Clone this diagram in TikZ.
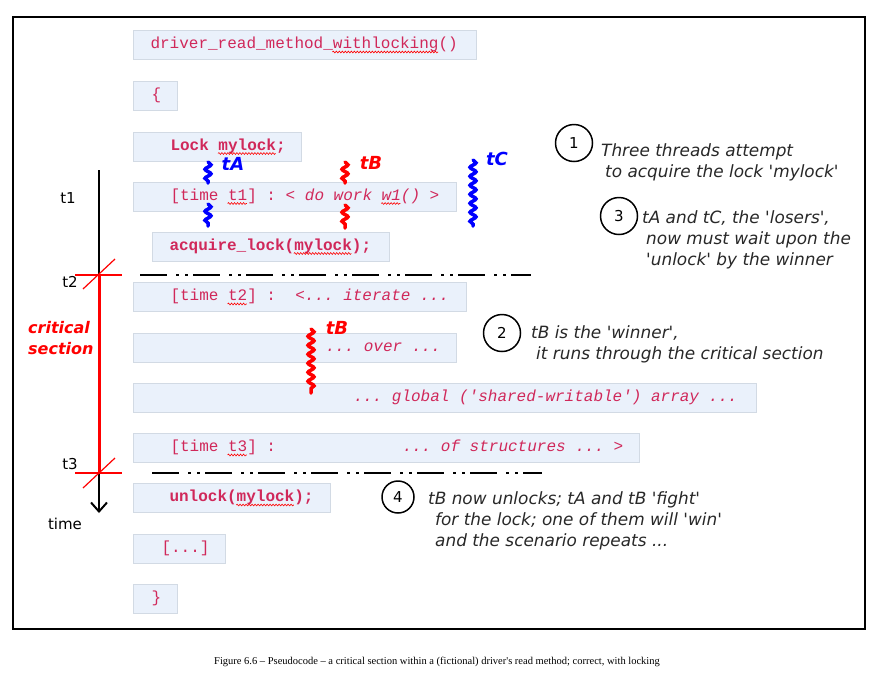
\documentclass[tikz,border=0pt]{standalone}
\usepackage{fontspec}
\setmonofont{Liberation Mono}
\newfontfamily\annfont{DejaVu Sans}
\newfontfamily\capfont{Liberation Serif}
\usetikzlibrary{decorations.pathmorphing,arrows.meta}
\definecolor{codered}{RGB}{208,40,90}
\definecolor{boxfill}{RGB}{234,241,251}
\definecolor{boxline}{RGB}{210,218,228}
\definecolor{anngray}{RGB}{40,40,40}
\definecolor{tblue}{RGB}{0,0,255}
\definecolor{tred}{RGB}{255,0,0}
\tikzset{
 codebox/.style={draw=boxline, line width=1pt, fill=boxfill, anchor=west, inner xsep=0pt, inner ysep=0pt,
   minimum height=29pt, align=left, font=\ttfamily\fontsize{16}{19}\selectfont, text=codered,
   execute at begin node={\strut\spaceskip=9.6pt\relax\xspaceskip=9.6pt\relax}},
 spell/.style={draw=tred, line width=0.6pt, decorate, decoration={snake, amplitude=0.9pt, segment length=3pt}},
 thread/.style={line width=3.5pt, line cap=round, decorate, decoration={snake, amplitude=3pt, segment length=9pt}},
 tlabel/.style={font=\annfont\bfseries\itshape\fontsize{18}{20}\selectfont, inner sep=0pt},
 numcirc/.style={draw, circle, line width=1.5pt, minimum size=37pt, inner sep=0pt, font=\annfont\fontsize{15}{17}\selectfont},
 ann/.style={anchor=base west, align=left, inner sep=0pt, text=anngray, font=\annfont\itshape\fontsize{16.9}{21}\selectfont},
 dashdot/.style={line width=2.6pt, dash pattern=on 27pt off 9pt on 3pt off 6pt on 3pt off 5pt},
 timelbl/.style={font=\annfont\fontsize{15}{17}\selectfont, inner sep=0pt},
 tickmark/.style={draw=tred, line width=1.2pt},
 critlbl/.style={anchor=west, inner sep=0pt, text=tred, font=\annfont\bfseries\itshape\fontsize{16}{18}\selectfont},
}
\begin{document}
\begin{tikzpicture}[x=1pt,y=-1pt]
\useasboundingbox (0,0) rectangle (873,673);
\fill[white] (0,0) rectangle (873,673);
\draw[line width=1.5pt] (13,17) rectangle (865,629);

% code boxes
\node[codebox, text width=343pt] (b1) at (133,45) {\hspace*{17pt}driver\_read\_method\_withlocking()};
\node[codebox, text width=44pt] (b2) at (133,96) {\hspace*{18pt}\{};
\node[codebox, text width=168pt] (b3) at (133,146.5) {\hspace*{37pt}\bfseries Lock mylock;};
\node[codebox, text width=323pt] (b4) at (133,196.5) {\hspace*{37pt}[time t1] : \itshape < do work w1() >};
\node[codebox, text width=237pt] (b5) at (152,246.5) {\hspace*{17pt}\bfseries acquire\_lock(mylock);};
\node[codebox, text width=333pt] (b6) at (133,297) {\hspace*{37pt}[time t2] :\hspace*{19.2pt}\itshape <... iterate ...};
\node[codebox, text width=323pt] (b7) at (133,347.5) {\hspace*{192pt}\itshape ... over ...};
\node[codebox, text width=623pt] (b8) at (133,397.5) {\hspace*{220pt}\itshape ... global ('shared-writable') array ...};
\node[codebox, text width=506pt] (b9) at (133,448) {\hspace*{37pt}[time t3] :\hspace*{126.4pt}\itshape ... of structures ... >};
\node[codebox, text width=197pt] (b10) at (133,498) {\hspace*{36pt}\bfseries unlock(mylock);};
\node[codebox, text width=92pt] (b11) at (133,549) {\hspace*{28pt}[...]};
\node[codebox, text width=44pt] (b12) at (133,599) {\hspace*{18pt}\}};

% spell-check underlines
\draw[spell] (332.4,52) -- (438,52);
\draw[spell] (218,153.5) -- (275.6,153.5);
\draw[spell] (227.6,203.5) -- (246.8,203.5);
\draw[spell] (381.2,203.5) -- (400.4,203.5);
\draw[spell] (293.8,253.5) -- (351.4,253.5);
\draw[spell] (227.6,304) -- (246.8,304);
\draw[spell] (227.6,455) -- (246.8,455);
\draw[spell] (236.2,505) -- (293.8,505);

% dash-dot separators
\coordinate (d1a) at (140,275);
\coordinate (d1b) at (531,275);
\coordinate (d2a) at (152,473);
\coordinate (d2b) at (542,473);
\draw[dashdot] (d1a) -- (d1b);
\draw[dashdot] (d2a) -- (d2b);

% time line
\coordinate (tl0) at (99,170);
\coordinate (tl1) at (99,513);
\coordinate (t2) at (99,275);
\coordinate (t3) at (99,473);
\draw[line width=2pt, -{Straight Barb[length=9pt, width=16pt, line width=2pt]}] (tl0) -- (tl1);
\draw[tred, line width=3pt] (t2) -- (t3);
\draw[tickmark] ([xshift=-24pt]t2) -- ([xshift=23pt]t2);
\draw[tickmark] ([xshift=-16pt,yshift=-14pt]t2) -- ([xshift=16pt,yshift=16pt]t2);
\draw[tickmark] ([xshift=-24pt]t3) -- ([xshift=23pt]t3);
\draw[tickmark] ([xshift=-16pt,yshift=-15pt]t3) -- ([xshift=16pt,yshift=15pt]t3);
\node[timelbl] (lt1) at (68,198) {t1};
\node[timelbl] (lt2) at (70,282) {t2};
\node[timelbl] (lt3) at (70,464) {t3};
\node[timelbl] (ltime) at (65,524) {time};
\node[critlbl] (cs1) at (28,328) {critical};
\node[critlbl] (cs2) at (28,349) {section};

% threads
\draw[thread, tblue] (208,162) -- (208,183);
\draw[thread, tblue] (208,204) -- (208,226);
\draw[thread, tred] (345,162) -- (345,183);
\draw[thread, tred] (345,205) -- (345,228);
\draw[thread, tblue] (473,160) -- (473,226);
\draw[thread, tred] (311,329) -- (311,393);
\node[tlabel, text=tblue] (ta) at (233,164) {tA};
\node[tlabel, text=tred] (tb) at (371,163) {tB};
\node[tlabel, text=tblue] (tc) at (497,159) {tC};
\node[tlabel, text=tred] (tb2) at (337,328) {tB};

% numbered notes
\node[numcirc] (n1) at (574,143) {1};
\node[numcirc] (n3) at (619,216) {3};
\node[numcirc] (n2) at (502,333) {2};
\node[numcirc, minimum size=32pt] (n4) at (398,497) {4};
\node[ann] (a1) at (601,177) {Three threads attempt\\\hspace*{4pt}to acquire the lock 'mylock'};
\node[ann] (a3) at (642,265) {tA and tC, the 'losers',\\\hspace*{4pt}now must wait upon the\\\hspace*{4pt}'unlock' by the winner};
\node[ann] (a2) at (531,359) {tB is the 'winner',\\\hspace*{5pt}it runs through the critical section};
\node[ann] (a4) at (428,546) {tB now unlocks; tA and tB 'fight'\\\hspace*{7pt}for the lock; one of them will 'win'\\\hspace*{7pt}and the scenario repeats ...};

% caption
\node[font=\capfont\fontsize{10.5}{12}\selectfont, inner sep=0pt] (cap) at (437,662)
  {Figure 6.6 – Pseudocode – a critical section within a (fictional) driver's read method; correct, with locking};
\end{tikzpicture}
\end{document}
